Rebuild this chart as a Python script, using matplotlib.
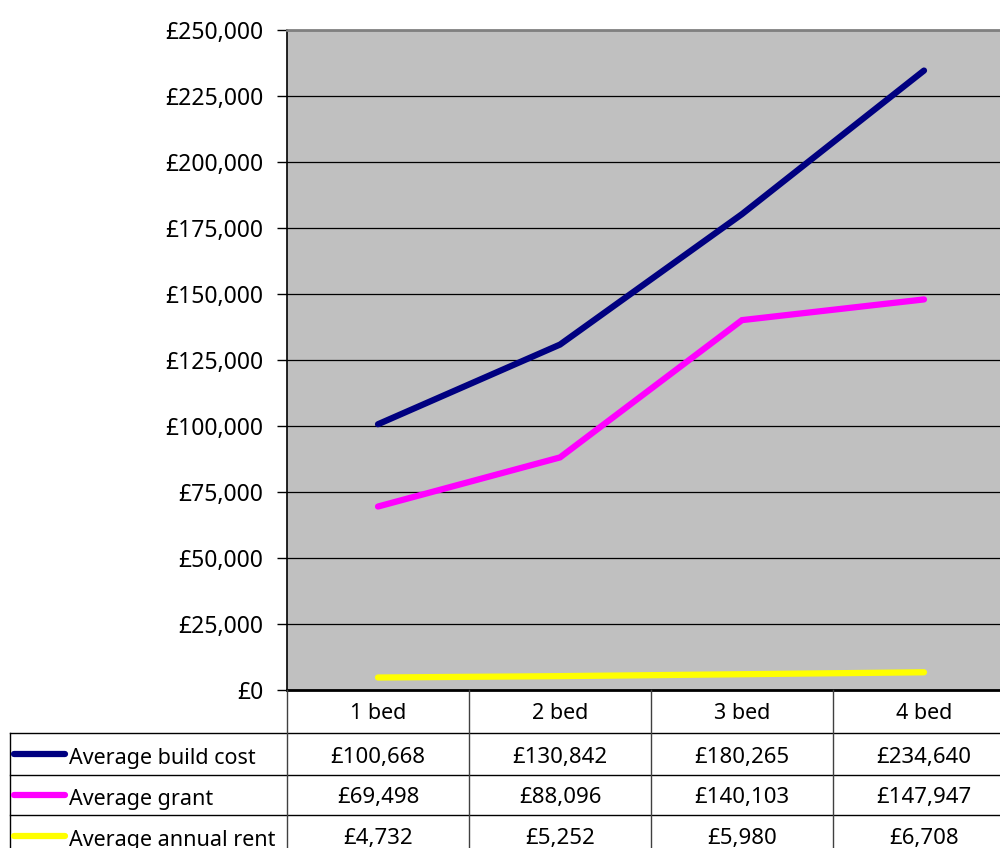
import matplotlib.pyplot as plt
from matplotlib.lines import Line2D
from matplotlib.ticker import FuncFormatter

categories = ["1 bed", "2 bed", "3 bed", "4 bed"]
series_names = ["Average build cost", "Average grant", "Average annual rent"]
build_cost = [100668, 130842, 180265, 234640]
grant = [69498, 88096, 140103, 147947]
annual_rent = [4732, 5252, 5980, 6708]
y_ticks = list(range(0, 250001, 25000))

series = [build_cost, grant, annual_rent]
colors = ["#000080", "#FF00FF", "#FFFF00"]

plt.rcParams["font.family"] = ["Noto Sans", "DejaVu Sans"]
W, H = 1000, 848
fig = plt.figure(figsize=(10, 8.48), dpi=100)


def fx(x):
    return x / W


def fy(y):
    return 1 - y / H


# plot area (extends a little past the right edge like the original)
left, right, top, bottom = 287, 1015, 30, 690
ax = fig.add_axes([fx(left), fy(bottom), fx(right - left), (bottom - top) / H])
ax.set_facecolor("#C0C0C0")
xs = range(len(categories))
for vals, c in zip(series, colors):
    ax.plot(xs, vals, color=c, lw=4.5, solid_capstyle="round", solid_joinstyle="miter", zorder=3)

ax.set_xlim(-0.5, len(categories) - 0.5)
ax.set_ylim(0, 250000)
ax.set_yticks(y_ticks)
ax.yaxis.set_major_formatter(FuncFormatter(lambda v, p: f"£{int(v):,}"))
ax.tick_params(axis="y", labelsize=16.5, length=7, width=1, pad=10, color="black")
ax.set_xticks([])
ax.grid(axis="y", color="black", lw=0.9)
ax.set_axisbelow(True)
ax.spines["right"].set_visible(False)
ax.spines["top"].set_color("#808080")
ax.spines["top"].set_linewidth(2)
ax.spines["left"].set_linewidth(1.2)
ax.spines["bottom"].set_linewidth(2)

# data table below the plot
row_edges = [690, 733, 775, 815, 856]
col_edges = [fig.transFigure.inverted().transform(ax.transData.transform((i - 0.5, 0)))[0]
             for i in range(len(categories) + 1)]
tbl_left = fx(10)


def hline(y, x0, x1, color="black", lw=1.0):
    fig.add_artist(Line2D([x0, x1], [fy(y), fy(y)], color=color, lw=lw, transform=fig.transFigure))


def vline(x, y0, y1, color="#404040", lw=1.0):
    fig.add_artist(Line2D([x, x], [fy(y0), fy(y1)], color=color, lw=lw, transform=fig.transFigure))


for y in row_edges[1:-1]:
    hline(y, tbl_left, col_edges[-1])
vline(tbl_left, row_edges[1], row_edges[-1], color="black")
for x in col_edges:
    vline(x, row_edges[0], row_edges[-1])

for i, cat in enumerate(categories):
    cx = (col_edges[i] + col_edges[i + 1]) / 2
    cy = fy((row_edges[0] + row_edges[1]) / 2 + 2)
    fig.text(cx, cy, cat, ha="center", va="center", fontsize=15.5)

for r, (name, vals, c) in enumerate(zip(series_names, series, colors)):
    cy = fy((row_edges[r + 1] + row_edges[r + 2]) / 2 + 3)
    fig.add_artist(Line2D([fx(14), fx(65)], [cy + 0.003, cy + 0.003], color=c, lw=4.5,
                          solid_capstyle="round", transform=fig.transFigure))
    fig.text(fx(69), cy - 0.002, name, ha="left", va="center", fontsize=15.5)
    for i, v in enumerate(vals):
        cx = (col_edges[i] + col_edges[i + 1]) / 2
        fig.text(cx, cy, f"£{v:,}", ha="center", va="center", fontsize=16)

fig.savefig("out.png", dpi=100)
